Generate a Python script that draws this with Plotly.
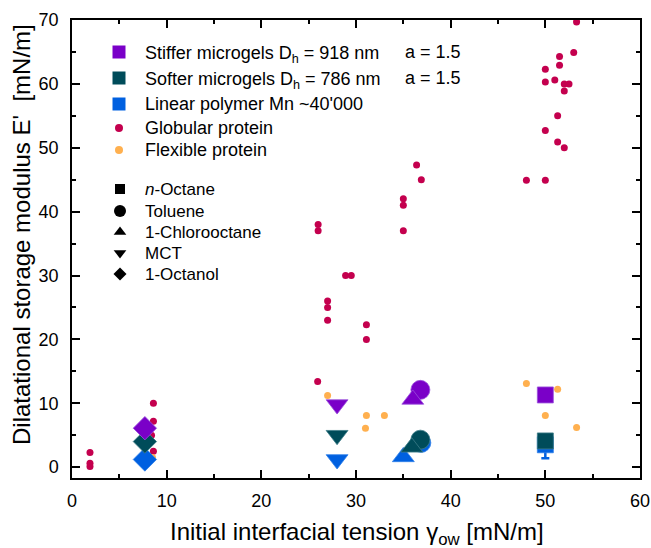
import plotly.graph_objects as go

# ---------------- data ----------------
solvents = ["n-Octane", "Toluene", "1-Chlorooctane", "MCT", "1-Octanol"]
solvent_symbols = ["square", "circle", "triangle-up", "triangle-down", "diamond"]
solvent_sizes = [16, 19, 19, 19, 18]
solvent_legend_labels = ["<i>n</i>-Octane", "Toluene", "1-Chlorooctane", "MCT", "1-Octanol"]

# Microgel / polymer series: point order = n-Octane, Toluene, 1-Chlorooctane, MCT, 1-Octanol
stiff_x = [50.0, 36.8, 36.0, 28.0, 7.7]
stiff_y = [11.3, 12.1, 10.6, 9.8, 6.1]

soft_x = [50.0, 36.8, 35.9, 28.0, 7.7]
soft_y = [4.1, 4.3, 3.1, 5.0, 4.0]

linear_x = [50.0, 36.9, 35.0, 28.0, 7.7]
linear_y = [3.5, 3.8, 1.6, 1.2, 1.2]
linear_err_plus = [1.0, None, None, None, None]
linear_err_minus = [2.1, None, None, None, None]

glob_x = [1.9, 1.9, 1.9, 8.6, 8.6, 8.6, 8.4, 25.95, 26.0, 26.0, 27.0, 27.0, 27.0,
          28.9, 29.5, 31.1, 31.1, 35.0, 35.0, 35.0, 36.4, 36.9,
          48.0, 50.0, 53.3, 53.0, 51.5, 51.5, 50.0, 50.0, 51.0, 52.0, 52.5, 52.0,
          51.3, 50.0, 51.3, 52.0]
glob_y = [2.3, 0.6, 0.1, 10.0, 7.2, 2.5, 5.0, 13.4, 38.0, 37.0, 26.0, 25.0, 23.0,
          30.0, 30.0, 22.3, 20.0, 42.0, 41.0, 37.0, 47.3, 45.0,
          44.9, 44.9, 69.7, 64.9, 64.3, 62.9, 62.3, 60.3, 60.6, 60.0, 60.0, 58.9,
          55.0, 52.7, 50.9, 50.0]

flex_x = [8.5, 27.0, 31.1, 33.0, 31.0, 48.0, 51.3, 50.0, 53.3]
flex_y = [1.5, 11.2, 8.1, 8.1, 6.1, 13.1, 12.2, 8.1, 6.2]

series_names = [
    "Stiffer microgels D<sub>h</sub> = 918 nm",
    "Softer microgels D<sub>h</sub> = 786 nm",
    "Linear polymer Mn ~40'000",
    "Globular protein",
    "Flexible protein",
]
series_colors = ["#7A00C8", "#004C5A", "#0060E0", "#C4004E", "#FFB04F"]
series_edge = ["#9A50DC", "#3C7C88", "#3080E8", "#C4004E", "#FFB04F"]
series_note = ["a = 1.5", "a = 1.5"]

x_ticks = [0, 10, 20, 30, 40, 50, 60]
y_ticks = [0, 10, 20, 30, 40, 50, 60, 70]

x_title = "Initial interfacial tension γ<sub>ow</sub> [mN/m]"
y_title = "Dilatational storage modulus E'  [mN/m]"

FONT = "Liberation Sans, Arial, sans-serif"

FIG_W, FIG_H = 651, 548
# plot-area frame in pixels (helper legend axes use these coordinates)
PX_L, PX_R, PX_T, PX_B = 72, 640, 20, 478

fig = go.Figure()

# protein dots
fig.add_trace(go.Scatter(x=glob_x, y=glob_y, mode="markers", showlegend=False,
                         marker=dict(color=series_colors[3], size=7, opacity=1, line=dict(width=0))))
fig.add_trace(go.Scatter(x=flex_x, y=flex_y, mode="markers", showlegend=False,
                         marker=dict(color=series_colors[4], size=7, opacity=1, line=dict(width=0))))

# microgel / polymer markers (linear polymer first so it sits underneath)
for xs, ys, ci, err in [(linear_x, linear_y, 2, (linear_err_plus, linear_err_minus)),
                        (soft_x, soft_y, 1, None),
                        (stiff_x, stiff_y, 0, None)]:
    kw = {}
    if err is not None:
        kw["error_y"] = dict(type="data", symmetric=False, array=err[0], arrayminus=err[1],
                             color=series_colors[ci], thickness=2.5, width=4, visible=True)
    fig.add_trace(go.Scatter(x=xs, y=ys, mode="markers", showlegend=False,
                             marker=dict(color=series_colors[ci], symbol=solvent_symbols,
                                         size=solvent_sizes, opacity=1,
                                         line=dict(width=0.8, color=series_edge[ci])),
                             **kw))

# ---------------- manual legend on helper pixel axes ----------------
ser_rows = [52, 78, 104, 128, 150]
ser_sym = ["square", "square", "square", "circle", "circle"]
ser_size = [13, 13, 13, 8, 8]
fig.add_trace(go.Scatter(x=[119] * 5, y=ser_rows, mode="markers", showlegend=False,
                         xaxis="x2", yaxis="y2", hoverinfo="skip",
                         marker=dict(color=series_colors, symbol=ser_sym, size=ser_size,
                                     opacity=1, line=dict(width=0))))
for name, ry in zip(series_names, ser_rows):
    dy = 2 if "<sub>" in name else 0
    fig.add_annotation(xref="x2", yref="y2", x=143, y=ry + dy, text=name, showarrow=False,
                       xanchor="left", yanchor="middle",
                       font=dict(family=FONT, size=18, color="black"))
for note, ry in zip(series_note, ser_rows[:2]):
    fig.add_annotation(xref="x2", yref="y2", x=403, y=ry, text=note, showarrow=False,
                       xanchor="left", yanchor="middle",
                       font=dict(family=FONT, size=18, color="black"))

sol_rows = [189, 211, 232, 253, 274]
sol_leg_size = [10, 12, 11, 11, 10]
fig.add_trace(go.Scatter(x=[120] * 5, y=sol_rows, mode="markers", showlegend=False,
                         xaxis="x2", yaxis="y2", hoverinfo="skip",
                         marker=dict(color="black", symbol=solvent_symbols, size=sol_leg_size,
                                     opacity=1, line=dict(width=0))))
for lab, ry in zip(solvent_legend_labels, sol_rows):
    fig.add_annotation(xref="x2", yref="y2", x=143, y=ry, text=lab, showarrow=False,
                       xanchor="left", yanchor="middle",
                       font=dict(family=FONT, size=17, color="black"))

# axis titles
fig.add_annotation(xref="paper", yref="paper", x=(357 - PX_L) / (PX_R - PX_L),
                   y=(PX_B - 533) / (PX_B - PX_T), text=x_title, showarrow=False,
                   xanchor="center", yanchor="middle",
                   font=dict(family=FONT, size=24, color="black"))
fig.add_annotation(xref="paper", yref="paper", x=(21 - PX_L) / (PX_R - PX_L),
                   y=(PX_B - 235) / (PX_B - PX_T), text=y_title, showarrow=False,
                   textangle=-90, xanchor="center", yanchor="middle",
                   font=dict(family=FONT, size=24, color="black"))

axis_common = dict(
    showline=True, linecolor="black", linewidth=1.5, mirror="ticks",
    ticks="inside", ticklen=8, tickwidth=1.5, tickcolor="black",
    showgrid=False, zeroline=False, automargin=False,
    tickfont=dict(family=FONT, size=18, color="black"),
    minor=dict(ticks="inside", ticklen=4, tickwidth=1.5, tickcolor="black", dtick=5, showgrid=False),
)

fig.update_layout(
    width=FIG_W, height=FIG_H,
    margin=dict(l=PX_L, r=FIG_W - PX_R, t=PX_T, b=FIG_H - PX_B),
    paper_bgcolor="white", plot_bgcolor="white",
    font=dict(family=FONT, size=18, color="black"),
    showlegend=False,
    xaxis=dict(range=[0, 60], tickvals=x_ticks, ticktext=[str(v) for v in x_ticks],
               ticklabelstandoff=6, **axis_common),
    yaxis=dict(range=[-1.7, 70], tickvals=y_ticks, ticktext=[str(v) for v in y_ticks],
               ticklabelstandoff=8, **axis_common),
    xaxis2=dict(overlaying="x", anchor="y2", range=[PX_L, PX_R], visible=False,
                showgrid=False, zeroline=False, fixedrange=True),
    yaxis2=dict(overlaying="y", anchor="x2", range=[PX_B, PX_T], visible=False,
                showgrid=False, zeroline=False, fixedrange=True),
)

fig.write_html("out.html", config={"displayModeBar": False},
               post_script="document.body.style.margin='0px';document.body.style.overflow='hidden';")
